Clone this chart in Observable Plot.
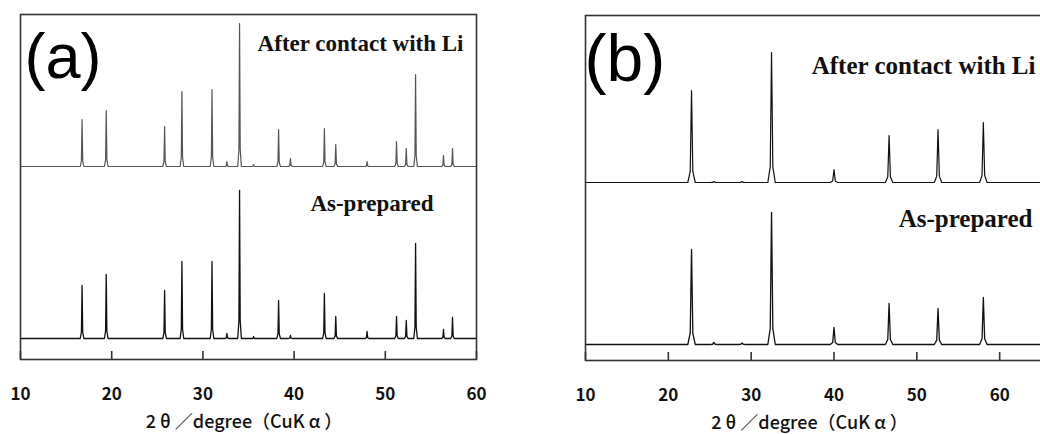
<!DOCTYPE html>
<html><head><meta charset="utf-8">
<script src="https://cdn.jsdelivr.net/npm/d3@7"></script>
<script src="https://cdn.jsdelivr.net/npm/@observablehq/plot@0.6"></script>
<style>
html,body{margin:0;padding:0;background:#fff;overflow:hidden;}
#wrap{position:relative;width:1040px;height:434px;overflow:hidden;background:#fff;}
#pa{position:absolute;left:0;top:0;width:520px;}
#pb{position:absolute;left:520px;top:0;width:600px;}
#wrap svg{max-width:none !important;}
</style></head><body>
<div id="wrap"><div id="pa"></div><div id="pb"></div></div>
<script>
// ---------- data ----------
const panelLabels = ["(a)", "(b)"];
const seriesNames = ["After contact with Li", "As-prepared"];
const axisTitle = "2 θ ／degree（CuK α ）";

// panel (a): shared peak positions (2θ, degree)
const peaksA = [16.75, 19.4, 25.8, 27.7, 31.0, 32.63, 34.02, 35.55, 38.3, 39.6, 43.32, 44.57, 48.0, 51.23, 52.3, 53.32, 56.38, 57.37];
// peak heights above baseline (arbitrary intensity units)
const heightsA_after = [47, 56, 40, 75, 77, 5, 143, 2, 37, 8, 38, 22, 5, 25, 18, 92, 11, 18];
const heightsA_asprep = [53, 64, 48, 77, 77, 5, 148, 2, 38, 3, 45, 22, 7, 22, 18, 95, 9, 21];
const baselineA = {after: 193, asprep: 21};
const ticksA = [10, 20, 30, 40, 50, 60];

// panel (b)
const peaksB = [22.8, 25.5, 28.9, 32.46, 40.0, 46.65, 52.56, 58.03];
const heightsB_after = [92, 1, 1, 130, 13, 47, 53, 60];
const heightsB_asprep = [95, 2, 1.5, 132, 17, 41, 36, 47];
const baselineB = {after: 178, asprep: 16};
const ticksB = [10, 20, 30, 40, 50, 60, 70];
const tickLabelsB = [10, 20, 30, 40, 50, 60];

// ---------- build line tables ----------
function profile(series, positions, heights, base, w, xmin, xmax) {
  const pts = [{series, x: xmin, y: base}];
  positions.forEach((p, i) => {
    const h = heights[i];
    pts.push({series, x: p - w, y: base});
    pts.push({series, x: p - w * 0.35, y: base + h * 0.12});
    pts.push({series, x: p, y: base + h});
    pts.push({series, x: p + w * 0.35, y: base + h * 0.12});
    pts.push({series, x: p + w, y: base});
  });
  pts.push({series, x: xmax, y: base});
  return pts;
}
const lineA_after = profile(seriesNames[0], peaksA, heightsA_after, baselineA.after, 0.2, 10, 60);
const lineA_asprep = profile(seriesNames[1], peaksA, heightsA_asprep, baselineA.asprep, 0.2, 10, 60);
const lineB_after = profile(seriesNames[0], peaksB, heightsB_after, baselineB.after, 0.45, 10, 70);
const lineB_asprep = profile(seriesNames[1], peaksB, heightsB_asprep, baselineB.asprep, 0.45, 10, 70);

const sans = "'Noto Sans CJK JP', 'Noto Sans', sans-serif";
const serif = "'Liberation Serif', 'DejaVu Serif', serif";
const arial = "'Liberation Sans', Arial, sans-serif";

function panel(opts) {
  return Plot.plot({
    width: opts.width, height: 434,
    marginLeft: opts.ml, marginRight: opts.mr, marginTop: opts.mt, marginBottom: opts.mb,
    style: {fontFamily: sans, background: "white", overflow: "visible", maxWidth: "none"},
    x: {domain: opts.domain, label: null},
    y: {domain: [0, 345], axis: null},
    marks: [
      Plot.line(opts.after, {x: "x", y: "y", stroke: opts.afterColor, strokeWidth: 1.2}),
      Plot.line(opts.asprep, {x: "x", y: "y", stroke: "#111", strokeWidth: 1.3}),
      Plot.frame({stroke: "#333", strokeWidth: 1.6}),
      Plot.axisX({ticks: opts.ticks, tickSize: -8, fill: "none", stroke: "#333", strokeWidth: 1.6, label: null}),
      Plot.axisX({ticks: opts.tickLabels, tickSize: 0, tickPadding: 28, fontSize: 17, fontWeight: "bold", fill: "#111", label: null, tickFormat: d => String(d)}),
      Plot.text([opts.panelLabel], {text: d => d, frameAnchor: "top-left", textAnchor: "start", lineAnchor: "top", dx: opts.plx, dy: 19, fontSize: opts.plSize, fontFamily: arial, fill: "#000"}),
      Plot.text([seriesNames[0]], {text: d => d, frameAnchor: "top-right", textAnchor: "end", lineAnchor: "top", dx: opts.s1dx, dy: opts.s1dy, fontSize: opts.sSize, fontWeight: "bold", fontFamily: serif, fill: "#111"}),
      Plot.text([seriesNames[1]], {text: d => d, frameAnchor: "top-right", textAnchor: "end", lineAnchor: "top", dx: opts.s2dx, dy: opts.s2dy, fontSize: opts.sSize, fontWeight: "bold", fontFamily: serif, fill: "#111"}),
      Plot.text([axisTitle], {text: d => d, frameAnchor: "bottom", textAnchor: "middle", lineAnchor: "top", dx: opts.tdx, dy: 56, fontSize: 18, fontWeight: 500, fontFamily: sans, fill: "#111"})
    ]
  });
}

document.getElementById("pa").append(panel({
  width: 520, ml: 20, mr: 44, mt: 14, mb: 75, domain: [10, 60],
  after: lineA_after, asprep: lineA_asprep, afterColor: "#555",
  ticks: ticksA, tickLabels: ticksA, panelLabel: panelLabels[0], plx: 4, plSize: 63,
  sSize: 23, s1dx: -13, s1dy: 20, s2dx: -43, s2dy: 180,
  tdx: -4.5
}));
document.getElementById("pb").append(panel({
  width: 600, ml: 65, mr: 38, mt: 15, mb: 74, domain: [10, 70],
  after: lineB_after, asprep: lineB_asprep, afterColor: "#111",
  ticks: ticksB, tickLabels: tickLabelsB, panelLabel: panelLabels[1], plx: -1, plSize: 66,
  sSize: 25, s1dx: -47, s1dy: 41, s2dx: -50, s2dy: 194,
  tdx: -24.5
}));
</script>
</body></html>
